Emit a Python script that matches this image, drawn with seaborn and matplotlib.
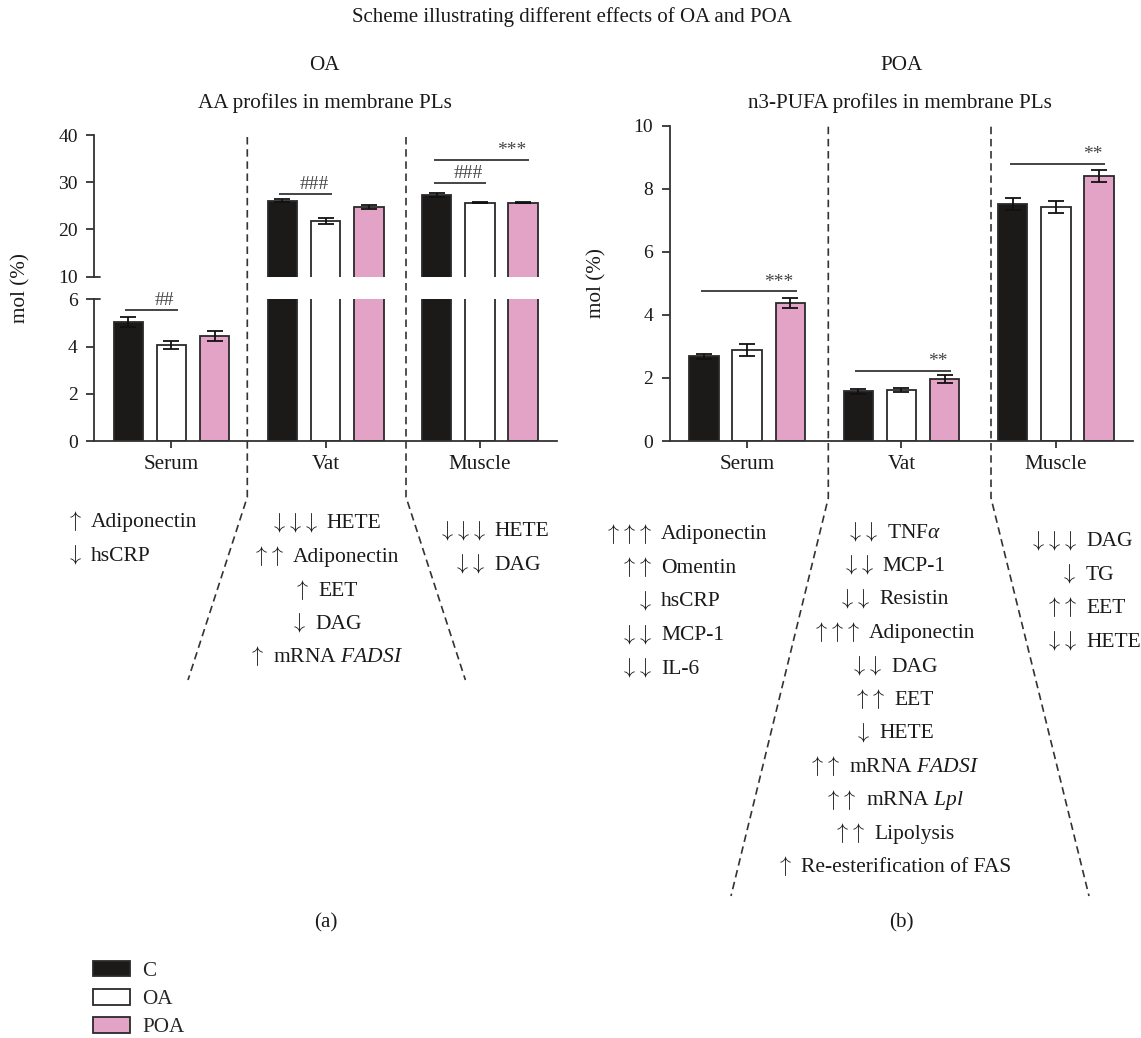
import numpy as np
import pandas as pd
import matplotlib
matplotlib.use("Agg")
import matplotlib.pyplot as plt
import seaborn as sns
from matplotlib.lines import Line2D
from matplotlib.patches import Patch
from matplotlib import transforms

# ---------------- data ----------------
tissues = ["Serum", "Vat", "Muscle"]
groups = ["C", "OA", "POA"]
colors = ["#1b1a19", "#ffffff", "#e2a3c7"]

# (a) AA profiles in membrane PLs, mol (%)
aa_C = [5.05, 26.1, 27.25]
aa_OA = [4.05, 21.8, 25.65]
aa_POA = [4.45, 24.75, 25.65]
aa_C_err = [0.22, 0.4, 0.35]
aa_OA_err = [0.17, 0.6, 0.12]
aa_POA_err = [0.2, 0.5, 0.12]

# (b) n3-PUFA profiles in membrane PLs, mol (%)
n3_C = [2.68, 1.58, 7.51]
n3_OA = [2.89, 1.62, 7.41]
n3_POA = [4.39, 1.96, 8.40]
n3_C_err = [0.07, 0.08, 0.19]
n3_OA_err = [0.19, 0.07, 0.19]
n3_POA_err = [0.16, 0.12, 0.20]

# significance brackets
aa_sig_tissue = ["Serum", "Vat", "Muscle", "Muscle"]
aa_sig_to = ["OA", "OA", "OA", "POA"]
aa_sig_y = [5.55, 27.55, 29.9, 34.75]
aa_sig_text = ["##", "###", "###", "***"]

n3_sig_tissue = ["Serum", "Vat", "Muscle"]
n3_sig_to = ["POA", "POA", "POA"]
n3_sig_y = [4.75, 2.22, 8.78]
n3_sig_text = ["***", "**", "**"]

# effect annotations
left_serum_arrows = ["↑", "↓"]
left_serum_labels = ["Adiponectin", "hsCRP"]
left_vat_arrows = ["↓↓↓", "↑↑", "↑", "↓", "↑"]
left_vat_labels = ["HETE", "Adiponectin", "EET", "DAG", "mRNA $\\mathit{FADSI}$"]
left_muscle_arrows = ["↓↓↓", "↓↓"]
left_muscle_labels = ["HETE", "DAG"]

right_serum_arrows = ["↑↑↑", "↑↑", "↓", "↓↓", "↓↓"]
right_serum_labels = ["Adiponectin", "Omentin", "hsCRP", "MCP-1", "IL-6"]
right_vat_arrows = ["↓↓", "↓↓", "↓↓", "↑↑↑", "↓↓", "↑↑", "↓", "↑↑", "↑↑", "↑↑", "↑"]
right_vat_labels = ["TNF$\\alpha$", "MCP-1", "Resistin", "Adiponectin", "DAG", "EET",
                    "HETE", "mRNA $\\mathit{FADSI}$", "mRNA $\\mathit{Lpl}$", "Lipolysis",
                    "Re-esterification of FAS"]
right_muscle_arrows = ["↓↓↓", "↓", "↑↑", "↓↓"]
right_muscle_labels = ["DAG", "TG", "EET", "HETE"]

# ---------------- style ----------------
sns.set_style("ticks")
plt.rcParams["font.family"] = ["Liberation Serif", "DejaVu Serif"]
plt.rcParams["mathtext.fontset"] = "custom"
plt.rcParams["mathtext.rm"] = "Liberation Serif"
plt.rcParams["mathtext.it"] = "Liberation Serif:italic"
plt.rcParams["mathtext.bf"] = "Liberation Serif:bold"

SP = "#333333"
EDGE = "#2a2a2a"
TXT = "#1a1a1a"
FS = 15.2
AFS = 15.5      # annotation text
ARROW_FS = 16   # arrow glyphs
TICK_FS = 14

W, H = 1141, 1038
fig = plt.figure(figsize=(W / 100, H / 100), dpi=100)


def fx(x):
    return x / W


def fy(y):
    return 1 - y / H


def axes_px(x0, y0, x1, y1):
    return fig.add_axes([fx(x0), fy(y1), (x1 - x0) / W, (y1 - y0) / H])


ax_top = axes_px(94.3, 135, 557, 276.5)
ax_low = axes_px(94.3, 299.3, 557, 441)
ax_r = axes_px(670, 125.7, 1133, 441)


def make_df(c, o, p):
    return pd.DataFrame({
        "tissue": tissues * 3,
        "group": ["C"] * 3 + ["OA"] * 3 + ["POA"] * 3,
        "value": list(c) + list(o) + list(p),
    })


def draw_bars(ax, df, errs):
    sns.barplot(data=df, x="tissue", y="value", hue="group", order=tissues,
                hue_order=groups, palette=colors, saturation=1, width=0.84,
                gap=0.32, errorbar=None, edgecolor=EDGE, linewidth=1.3,
                ax=ax, legend=False)
    bar_conts = list(ax.containers[:3])
    centers = {}
    for g, cont, err in zip(groups, bar_conts, errs):
        for t, bar, e in zip(tissues, cont, err):
            xc = bar.get_x() + bar.get_width() / 2
            centers[(t, g)] = xc
            ax.errorbar(xc, bar.get_height(), yerr=e, color="#111111",
                        elinewidth=1.3, capsize=5.5, capthick=1.3, zorder=4)
    ax.set_xlim(-0.5, 2.5)
    ax.set_xlabel("")
    ax.set_ylabel("")
    for s in ["top", "right"]:
        ax.spines[s].set_visible(False)
    for s in ["left", "bottom"]:
        ax.spines[s].set_color(SP)
        ax.spines[s].set_linewidth(1.3)
    ax.tick_params(axis="y", length=6, width=1.3, color=SP, pad=6, labelsize=TICK_FS,
                   labelcolor=TXT)
    ax.tick_params(axis="x", length=5, width=1.3, color=SP, pad=5, labelsize=FS,
                   labelcolor=TXT)
    return centers


aa_df = make_df(aa_C, aa_OA, aa_POA)
aa_errs = [aa_C_err, aa_OA_err, aa_POA_err]
n3_df = make_df(n3_C, n3_OA, n3_POA)
n3_errs = [n3_C_err, n3_OA_err, n3_POA_err]

cen_top = draw_bars(ax_top, aa_df, aa_errs)
cen_low = draw_bars(ax_low, aa_df, aa_errs)
cen_r = draw_bars(ax_r, n3_df, n3_errs)

# broken axis setup
ax_top.set_ylim(10, 40)
ax_top.set_yticks([10, 20, 30, 40])
ax_top.spines["bottom"].set_visible(False)
ax_top.tick_params(axis="x", bottom=False, labelbottom=False)
ax_low.set_ylim(0, 6)
ax_low.set_yticks([0, 2, 4, 6])
ax_r.set_ylim(0, 10)
ax_r.set_yticks([0, 2, 4, 6, 8, 10])

# break marks (ticks crossing the spine)
for ax, yy in [(ax_top, 0), (ax_low, 1)]:
    ax.add_line(Line2D([0, 6 / 463], [yy, yy], transform=ax.transAxes,
                       color=SP, lw=1.3, clip_on=False))


# significance brackets
def draw_sig(ax_of_y, centers, tiss, to, ys, labels):
    for t, g, y, lab in zip(tiss, to, ys, labels):
        ax = ax_of_y(y)
        x0 = centers[(t, "C")] - 0.02
        x1 = centers[(t, g)] + 0.04
        ax.plot([x0, x1], [y, y], color="#444444", lw=1.4, solid_capstyle="butt",
                clip_on=False, zorder=5)
        ax.annotate(lab, (x1 - 0.02, y), xytext=(0, 0.5), textcoords="offset points",
                    ha="right", va="bottom", fontsize=14, color="#444444",
                    annotation_clip=False)


draw_sig(lambda y: ax_top if y > 8 else ax_low, cen_low, aa_sig_tissue, aa_sig_to,
         aa_sig_y, aa_sig_text)
draw_sig(lambda y: ax_r, cen_r, n3_sig_tissue, n3_sig_to, n3_sig_y, n3_sig_text)

# dashed separators / funnel lines (figure pixel coordinates)
dash = (0, (4.5, 2.8))
funnels = [
    [(247.3, 137), (247.3, 497), (188, 680)],
    [(406, 137), (406, 497), (465.4, 680)],
    [(828.3, 126.7), (828.3, 498), (731, 896)],
    [(991, 126.7), (991, 498), (1089, 896)],
]
for pts in funnels:
    xs = [fx(p[0]) for p in pts]
    ys = [fy(p[1]) for p in pts]
    fig.add_artist(Line2D(xs, ys, transform=fig.transFigure, color=SP, lw=1.2,
                          linestyle=dash))

# effect annotations
STEP = 33.5
GAP_PX = 9
renderer = fig.canvas.get_renderer()


def arrow_math(a):
    return "$" + r"\!".join(r"\uparrow" if ch == "↑" else r"\downarrow" for ch in a) + "$"


def annot(ax, gi, mode, xoff, y0, arrows, labels):
    tr = transforms.blended_transform_factory(ax.transData, fig.transFigure)
    xc = gi + xoff
    for i, (a, l) in enumerate(zip(arrows, labels)):
        y = fy(y0 + i * STEP)
        ta = fig.text(xc, y, arrow_math(a), transform=tr, ha="right", va="center",
                      fontsize=ARROW_FS, color=TXT, math_fontfamily="cm")
        tl = fig.text(xc, y, l, transform=tr, ha="left", va="center",
                      fontsize=AFS, color=TXT)
        if mode == "split":
            ta.set_transform(transforms.offset_copy(tr, fig=fig, x=-GAP_PX, y=1.5,
                                                    units="dots"))
        else:
            wa = ta.get_window_extent(renderer).width
            wl = tl.get_window_extent(renderer).width
            total = wa + GAP_PX + wl
            ta.set_transform(transforms.offset_copy(tr, fig=fig, x=-total / 2 + wa,
                                                    y=1.5, units="dots"))
            tl.set_transform(transforms.offset_copy(tr, fig=fig,
                                                    x=-total / 2 + wa + GAP_PX,
                                                    units="dots"))


annot(ax_low, 0, "split", -0.52, 522.7, left_serum_arrows, left_serum_labels)
annot(ax_low, 1, "center", 0.0, 524, left_vat_arrows, left_vat_labels)
annot(ax_low, 2, "split", 0.095, 531.7, left_muscle_arrows, left_muscle_labels)
annot(ax_r, 0, "split", -0.557, 535, right_serum_arrows, right_serum_labels)
annot(ax_r, 1, "center", -0.05, 533, right_vat_arrows, right_vat_labels)
annot(ax_r, 2, "split", 0.196, 541.7, right_muscle_arrows, right_muscle_labels)

# titles and labels
fig.text(fx(572), fy(17), "Scheme illustrating different effects of OA and POA",
         ha="center", va="center", fontsize=15, color=TXT)
fig.text(fx(324), fy(65), "OA", ha="center", va="center", fontsize=FS, color=TXT)
fig.text(fx(324.6), fy(103), "AA profiles in membrane PLs", ha="center", va="center",
         fontsize=FS, color=TXT)
fig.text(fx(901.5), fy(66), "POA", ha="center", va="center", fontsize=FS, color=TXT)
fig.text(fx(900), fy(103), "n3-PUFA profiles in membrane PLs", ha="center",
         va="center", fontsize=FS, color=TXT)
fig.text(fx(21), fy(288), "mol (%)", rotation=90, ha="center", va="center",
         fontsize=FS, color=TXT)
fig.text(fx(597), fy(283), "mol (%)", rotation=90, ha="center", va="center",
         fontsize=FS, color=TXT)
fig.text(fx(325.6), fy(923), "(a)", ha="center", va="center", fontsize=FS, color=TXT)
fig.text(fx(901.5), fy(923), "(b)", ha="center", va="center", fontsize=FS, color=TXT)

# legend
handles = [Patch(facecolor=c, edgecolor=EDGE, linewidth=1.3) for c in colors]
fig.legend(handles, groups, loc="upper left", bbox_to_anchor=(fx(93), fy(961)),
           frameon=False, fontsize=FS, handlelength=1.75, handleheight=0.75,
           handletextpad=0.6, labelspacing=0.38, borderpad=0, borderaxespad=0)

fig.savefig("out.png", dpi=100, facecolor="white")
